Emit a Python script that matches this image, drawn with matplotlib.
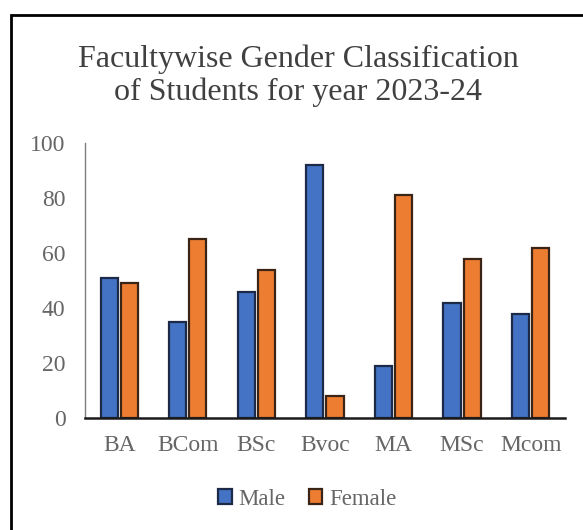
import numpy as np
import matplotlib
matplotlib.use("Agg")
import matplotlib.pyplot as plt
from matplotlib.patches import Rectangle

faculties = ['BA', 'BCom', 'BSc', 'Bvoc', 'MA', 'MSc', 'Mcom']
male = [51, 35, 46, 92, 19, 42, 38]
female = [49, 65, 54, 8, 81, 58, 62]
y_ticks = [0, 20, 40, 60, 80, 100]

plt.rcParams['font.family'] = ['Liberation Serif', 'DejaVu Serif']

fig = plt.figure(figsize=(5.83, 5.3), dpi=100)
ax = fig.add_axes([0.1458, 0.2113, 0.8232, 0.5187])

x = np.arange(len(faculties))
w = 0.25
ax.bar(x - 0.147, male, w, color='#4472C4', edgecolor='#1c2a48', linewidth=1.6, label='Male')
ax.bar(x + 0.147, female, w, color='#ED7D31', edgecolor='#3a2416', linewidth=1.6, label='Female')

ax.set_xlim(-0.5, len(faculties) - 0.5)
ax.set_ylim(0, 100)
ax.set_yticks(y_ticks)
ax.set_xticks(x)
ax.set_xticklabels(faculties)
ax.tick_params(axis='both', length=0, labelsize=17, colors='#666666')
ax.tick_params(axis='y', pad=14)
ax.tick_params(axis='x', pad=12)

for s in ['top', 'right']:
    ax.spines[s].set_visible(False)
ax.spines['left'].set_color('#7f7f7f')
ax.spines['left'].set_linewidth(1.0)
ax.spines['bottom'].set_color('#1a1a1a')
ax.spines['bottom'].set_linewidth(1.8)

fig.text(0.512, 0.857, 'Facultywise Gender Classification\nof Students for year 2023-24',
         ha='center', va='center', fontsize=23, color='#404040', linespacing=1.12)

fig.legend(loc='center', bbox_to_anchor=(0.527, 0.058), ncol=2, frameon=False,
           fontsize=16.5, labelcolor='#666666', handlelength=0.6, handleheight=0.6,
           handletextpad=0.3, columnspacing=1.0)

# outer frame (only left and top visible in the crop)
fig.patches.append(Rectangle((11 / 583, -0.1), 1.2, (530 - 15) / 530 + 0.1,
                             transform=fig.transFigure, fill=False,
                             edgecolor='black', linewidth=2.0))

fig.savefig('out.png', dpi=100)
